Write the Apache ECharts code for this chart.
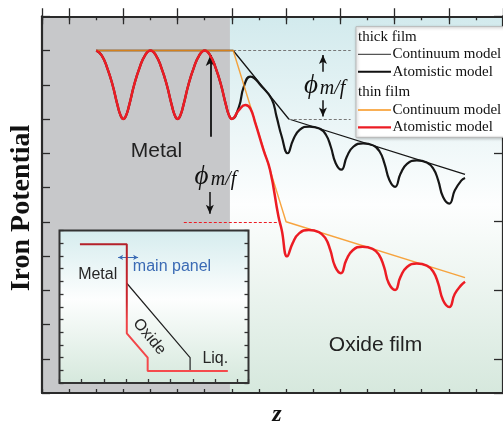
<!DOCTYPE html>
<html><head><meta charset="utf-8">
<script src="https://cdn.jsdelivr.net/npm/echarts@6/dist/echarts.min.js"></script>
<style>html,body{margin:0;padding:0;background:#fff}#c{width:503px;height:423px}</style>
</head><body><div id="c"></div>
<script>
// ---------- DATA (main panel: x in minor-tick units, y in tick units) ----------
const metalEdge = 6.93;                       // end of the grey metal region
const continuumThick = [[2,10],[7.05,10],[9.1,8],[15.6,6.38]];
const continuumThin  = [[2,10],[7.05,10],[9.0,5],[15.6,3.37]];
const metalAtomistic = [[2,10],[2.2,9.86],[2.4,9.5],[2.6,9.0],[2.78,8.42],[2.9,8.1],[3,8],[3.1,8.1],[3.22,8.42],[3.4,9.0],[3.6,9.5],[3.8,9.86],
  [4,10],[4.2,9.86],[4.4,9.5],[4.6,9.0],[4.78,8.42],[4.9,8.1],[5,8],[5.1,8.1],[5.22,8.42],[5.4,9.0],[5.6,9.5],[5.8,9.86],
  [6,10],[6.2,9.86],[6.4,9.5],[6.6,9.0],[6.78,8.42],[6.9,8.1],[7,8]];
const thickOxideAtomistic = [[7.26,8.35],[7.44,8.94],[7.68,9.24],[8.11,8.94],[8.47,8.58],[8.65,8.07],[8.84,7.49],
  [9.06,7.0],[9.26,7.39],[9.5,7.68],[9.86,7.78],[10.23,7.72],[10.47,7.54],[10.65,7.19],[10.83,6.71],
  [11.04,6.52],[11.24,6.9],[11.48,7.19],[11.84,7.29],[12.21,7.23],[12.45,7.05],[12.63,6.7],[12.81,6.22],
  [13.02,6.02],[13.22,6.4],[13.46,6.69],[13.82,6.79],[14.19,6.73],[14.43,6.55],[14.61,6.21],[14.79,5.72],
  [15.02,5.53],[15.22,5.91],[15.46,6.2],[15.6,6.28]];
const thinOxideAtomistic = [[7.26,8.26],[7.5,8.41],[7.68,8.31],[7.87,7.87],[8.17,7.09],[8.41,6.51],[8.72,5.15],[8.84,4.76],
  [9.04,3.99],[9.24,4.37],[9.48,4.66],[9.84,4.76],[10.21,4.7],[10.45,4.52],[10.63,4.18],[10.81,3.69],
  [11.02,3.5],[11.22,3.88],[11.46,4.17],[11.82,4.27],[12.19,4.21],[12.43,4.03],[12.61,3.69],[12.79,3.2],
  [13.02,3.01],[13.22,3.39],[13.46,3.68],[13.82,3.78],[14.19,3.72],[14.43,3.54],[14.61,3.2],[14.79,2.71],
  [15.02,2.51],[15.22,2.89],[15.46,3.15],[15.6,3.25]];
// annotation guides (data coordinates)
const guideTop = [[7.05,10],[11.38,10]];
const guideKink = [[9.1,8],[11.38,8]];
const guideThin = [[5.23,5],[8.72,5]];
const arrowMain = [[6.21,7.48],[6.21,9.87]];
const arrowMainDown = [[6.19,5.87],[6.19,5.23]];
const arrowUp = [[10.36,9.38],[10.36,9.87]];
const arrowDown = [[10.36,8.55],[10.36,8.07]];
// inset
const insetThin  = [[0.92,10.92],[3.03,10.92],[3.03,3.91],[3.97,2.0],[3.97,0.95],[7.58,0.95]];
const insetThick = [[3.03,7.85],[5.88,2.0],[5.88,0.95]];
const insetArrow = [[2.64,9.88],[3.54,9.88]];

// ---------- STYLE ----------
const RED = '#ec1c24', ORANGE = '#f7941d', BLACK = '#161616', AX = '#2a2a2a';
const chart = echarts.init(document.getElementById('c'), null, {renderer:'canvas'});
const G = echarts.graphic;
const bgMain = new G.LinearGradient(0,0,0,1,[{offset:0,color:'#d2eaed'},{offset:0.5,color:'#fdfefe'},{offset:1,color:'#d6e8dd'}]);
const bgInset = new G.LinearGradient(0,0,0,1,[{offset:0,color:'#d5ecee'},{offset:0.45,color:'#fdfefe'},{offset:1,color:'#d5e8dc'}]);
const off = {show:false};
function xa(grid, pos, opts){ return Object.assign({gridIndex:grid,type:'value',position:pos,axisLabel:off,splitLine:off,z:3},opts); }
const tick = (len, c) => ({show:true,inside:true,length:len,lineStyle:{color:c||AX,width:1.3}});
const mainLine = {show:true,lineStyle:{color:AX,width:2.2}};
const ml = (pts, style, sym, size) => [
  {coord:pts[0],symbol:sym?sym[0]:'none',symbolSize:size||8,lineStyle:style},
  {coord:pts[1],symbol:sym?sym[1]:'none',symbolSize:size||8}];

const serif = '"Liberation Serif","DejaVu Serif",serif';
const sans = '"Liberation Sans",Arial,sans-serif';
function txt(x,y,text,font,fill,extra){ return Object.assign({type:'text',x:x,y:y,z:30,silent:true,style:{text:text,font:font,fill:fill||'#222',align:'center',verticalAlign:'middle'}},extra||{}); }
function ltxt(x,y,text){ return {type:'text',z:30,x:x,y:y,silent:true,style:{text:text,font:'15px '+serif,fill:'#111',align:'left',verticalAlign:'middle'}}; }

const legendItems = [
  ltxt(358,37.5,'thick film'),
  {type:'line',z:30,shape:{x1:358,y1:54.3,x2:391,y2:54.3},style:{stroke:'#555',lineWidth:1.2}},
  {type:'line',z:30,shape:{x1:358,y1:71.7,x2:391,y2:71.7},style:{stroke:'#111',lineWidth:2}},
  ltxt(358,92.5,'thin film'),
  {type:'line',z:30,shape:{x1:358,y1:110,x2:391,y2:110},style:{stroke:ORANGE,lineWidth:1.4}},
  {type:'line',z:30,shape:{x1:358,y1:127.3,x2:391,y2:127.3},style:{stroke:RED,lineWidth:2.3}},
  ltxt(392.5,54.3,'Continuum model'), ltxt(392.5,71.7,'Atomistic model'),
  ltxt(392.5,110,'Continuum model'), ltxt(392.5,127.3,'Atomistic model')
];

const option = {
  animation:false,
  backgroundColor:'#fff',
  grid:[
    {left:42,top:16.25,width:467.5,height:376.75,show:true,backgroundColor:bgMain,borderWidth:0,z:0},
    {left:59.5,top:230.5,width:189,height:152.5,show:true,backgroundColor:bgInset,borderColor:'#333',borderWidth:2,z:5}
  ],
  xAxis:[
    xa(0,'bottom',{min:0,max:17,interval:1,axisLine:mainLine,axisTick:tick(4)}),
    xa(0,'bottom',{min:0,max:17,interval:2,inverse:true,axisLine:off,axisTick:tick(8)}),
    xa(0,'top',{min:0,max:17,interval:1,axisLine:mainLine,axisTick:tick(4)}),
    xa(0,'top',{min:0,max:17,interval:2,inverse:true,axisLine:off,axisTick:tick(8)}),
    xa(1,'bottom',{min:0,max:8.51,interval:1,axisLine:off,axisTick:tick(4,'#333'),z:7})
  ],
  yAxis:[
    xa(0,'left',{min:0,max:11,interval:1,axisLine:mainLine,axisTick:tick(8)}),
    xa(0,'right',{min:0,max:11,interval:2,inverse:true,axisLine:mainLine,axisTick:tick(9)}),
    xa(1,'left',{min:0,max:12,interval:1,axisLine:off,axisTick:tick(4,'#333'),z:7}),
    xa(1,'right',{min:0,max:12,interval:1,axisLine:off,axisTick:tick(4,'#333'),z:7})
  ],
  series:[
    {type:'line',name:'metal region',data:[[0,0]],symbol:'none',lineStyle:{opacity:0},z:1,silent:true,
     markArea:{silent:true,z:1,itemStyle:{color:'#c7c8ca'},data:[[{xAxis:0,yAxis:0},{xAxis:metalEdge,yAxis:11}]]}},
    {type:'line',name:'thick continuum',data:continuumThick,symbol:'none',lineStyle:{color:BLACK,width:1.3},z:3,silent:true,
     markLine:{silent:true,z:4,label:off,animation:false,symbol:'none',
       data:[ml(guideTop,{color:'#777',type:[3,2],width:1}), ml(guideKink,{color:'#777',type:[3,2],width:1}),
             ml(guideThin,{color:RED,type:[3,2],width:1}),
             ml(arrowMain,{color:'#111',type:'solid',width:1.8},['none','arrow'],[7,11]),
             ml(arrowMainDown,{color:'#111',type:'solid',width:1.5},['none','arrow'],[6,9]),
             ml(arrowUp,{color:'#111',type:'solid',width:1.5},['none','arrow'],[6,9]),
             ml(arrowDown,{color:'#111',type:'solid',width:1.5},['none','arrow'],[6,9])]}},
    {type:'line',name:'thick atomistic',data:metalAtomistic.concat(thickOxideAtomistic),symbol:'none',smooth:0.5,lineStyle:{color:BLACK,width:2.2},z:4,silent:true},
    {type:'line',name:'thin continuum',data:continuumThin,symbol:'none',lineStyle:{color:ORANGE,width:1.4,opacity:0.85},z:5,silent:true},
    {type:'line',name:'thin atomistic',data:metalAtomistic.concat(thinOxideAtomistic),symbol:'none',smooth:0.5,lineStyle:{color:RED,width:2.5},z:6,silent:true},
    {type:'line',name:'inset oxide',xAxisIndex:4,yAxisIndex:2,data:insetThick,symbol:'none',lineStyle:{color:'#222',width:1.2},z:8,silent:true,
     markLine:{silent:true,z:9,label:off,symbol:'none',data:[ml(insetArrow,{color:'#3a6ab4',type:'solid',width:1},['arrow','arrow'],[4,5])]}},
    {type:'line',name:'inset metal',xAxisIndex:4,yAxisIndex:2,data:insetThin,symbol:'none',z:9,silent:true,
     lineStyle:{width:2,color:new G.LinearGradient(0,0,0,1,[{offset:0,color:'#b3202a'},{offset:0.45,color:'#cc262e'},{offset:0.6,color:'#ef4347'},{offset:1,color:'#f54a4c'}])}}
  ],
  graphic:[
    {type:'rect',z:29,shape:{x:356,y:26.7,width:160,height:110.6},style:{fill:'#fff',stroke:'#b8b8b8',lineWidth:1,shadowBlur:3,shadowColor:'rgba(0,0,0,0.3)',shadowOffsetX:1,shadowOffsetY:1}}
  ].concat(legendItems).concat([
    txt(22,208,'Iron Potential','bold 28px '+serif,'#111',{rotation:Math.PI/2}),
    txt(277,415,'z','italic bold 24px '+serif,'#111'),
    txt(156.5,151,'Metal','21px '+sans,'#222'),
    txt(375.5,345,'Oxide film','21px '+sans,'#222'),
    txt(311,86,'\u03d5','italic 27px '+serif,'#111'),
    txt(332.5,89,'m/f','italic 20px '+serif,'#111'),
    txt(201.5,177,'\u03d5','italic 27px '+serif,'#111'),
    txt(223.5,180,'m/f','italic 20px '+serif,'#111'),
    txt(97.7,275,'Metal','16px '+sans,'#262626'),
    txt(172,266.5,'main panel','16px '+sans,'#3a6ab4'),
    txt(149.3,336.7,'Oxide','16px '+sans,'#262626',{rotation:-50*Math.PI/180}),
    txt(215.3,359,'Liq.','16px '+sans,'#262626')
  ])
};
chart.setOption(option);
</script></body></html>
